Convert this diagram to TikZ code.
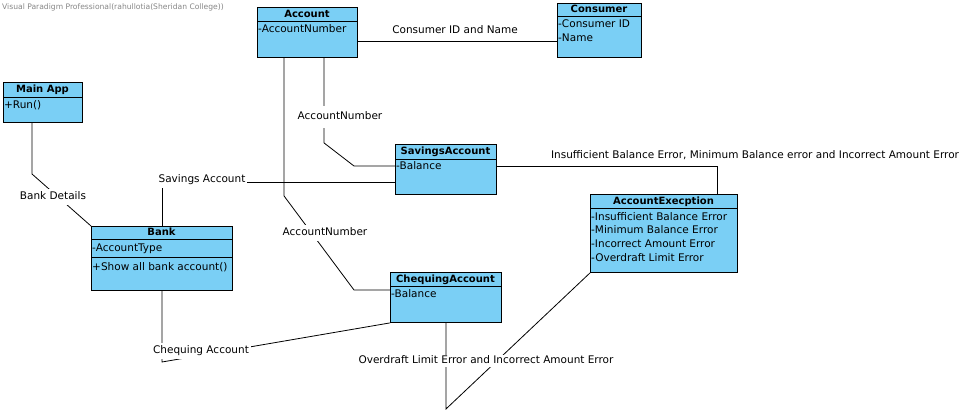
\documentclass[tikz,border=0pt]{standalone}
\usepackage{fontspec}
\setmainfont{DejaVu Sans}
\usetikzlibrary{calc}
\definecolor{classblue}{RGB}{122,207,245}
\definecolor{wmgray}{RGB}{135,135,135}
\newcommand\umlclass[7]{% name, x1, y1, x2, y2, header bottom, title
  \node[classbox, minimum width={(#4-#2)*1pt}, minimum height={(#5-#3)*1pt}] (#1) at (#2,#3) {};
  \draw[sepline] (#2,#6) -- (#4,#6);
  \node[ctitle] at ({(#2+#4)/2},{(#3+#6)/2+0.5}) {#7};
}
\begin{document}
\begin{tikzpicture}[x=1pt,y=-1pt,
  classbox/.style={draw=black, fill=classblue, line width=0.9pt, inner sep=0pt, anchor=north west},
  sepline/.style={draw=black, line width=0.9pt},
  ctitle/.style={font=\fontsize{10}{12}\selectfont\bfseries, inner sep=0pt, text height=7.5pt, text depth=2pt},
  member/.style={font=\fontsize{10.5}{12}\selectfont, inner sep=0pt, anchor=west, text height=7.5pt, text depth=2.3pt},
  conn/.style={draw=black, line width=0.8pt},
  lbl/.style={font=\fontsize{10.5}{12}\selectfont, inner xsep=2pt, inner ysep=3pt, text height=7.5pt, text depth=2.3pt},
  lblw/.style={lbl, fill=white},
]
\fill[white] (0,0) rectangle (977,413);
\useasboundingbox (0,0) rectangle (977,413);

% watermark
\node[font=\fontsize{7.6}{9}\selectfont, text=wmgray, anchor=west, inner sep=0pt] (wm) at (2,7) {Visual Paradigm Professional(rahullotia(Sheridan College))};

% classes
\umlclass{acc}{257}{7}{357}{57}{21}{Account}
\node[member] (accA) at (258,30) {-AccountNumber};

\umlclass{con}{557}{3}{641}{57}{16}{Consumer}
\node[member] (conA) at (558,25) {-Consumer ID};
\node[member] (conB) at (558,39) {-Name};

\umlclass{main}{3}{82}{82}{122}{97}{Main App}
\node[member] (mainA) at (4,106) {+Run()};

\umlclass{bank}{91}{226}{232}{290}{239}{Bank}
\draw[sepline] (91,257) -- (232,257);
\node[member] (bankA) at (92,249) {-AccountType};
\node[member] (bankM) at (92,268) {+Show all bank account()};

\umlclass{sav}{395}{144}{496}{194}{159}{SavingsAccount}
\node[member] (savA) at (396,167) {-Balance};

\umlclass{chq}{390}{272}{501}{322}{286}{ChequingAccount}
\node[member] (chqA) at (391,295) {-Balance};

\umlclass{exc}{590}{194}{737}{272}{208}{AccountExecption}
\node[member] (excA) at (591,218) {-Insufficient Balance Error};
\node[member] (excB) at (591,231) {-Minimum Balance Error};
\node[member] (excC) at (591,245) {-Incorrect Amount Error};
\node[member] (excD) at (591,259) {-Overdraft Limit Error};

% connectors
\draw[conn] (acc.east |- 0,41) -- (con.west |- 0,41);
\draw[conn] (main.south -| 32,0) -- (32,174) -- (bank.north west);
\draw[conn] (bank.north) -- (bank.north |- 0,182) -- (sav.west |- 0,182);
\draw[conn] (bank.south) -- (bank.south |- 0,362) -- (chq.south west);
\draw[conn] ($(acc.south west)+(27,0)$) -- ($(acc.south west)+(27,138)$) -- (354,290) -- (chq.west |- 0,290);
\draw[conn] ($(acc.south west)+(67,0)$) -- ($(acc.south west)+(67,85)$) -- (354,166) -- (sav.west |- 0,166);
\draw[conn] (sav.east |- 0,166) -- (717,166) -- (exc.north -| 717,0);
\draw[conn] (chq.south) -- (chq.south |- 0,409) -- (exc.south west);

% connector labels
\node[lbl] (l1) at (455,31) {Consumer ID and Name};
\node[lblw] (l2) at (53,197) {Bank Details};
\node[lblw] (l3) at (202,180) {Savings Account};
\node[lblw] (l4) at (201,351) {Chequing Account};
\node[lblw] (l5) at (325,233) {AccountNumber};
\node[lblw, inner ysep=6pt] (l6) at (340,117) {AccountNumber};
\node[lbl] (l7) at (755,156) {Insufficient Balance Error, Minimum Balance error and Incorrect Amount Error};
\node[lblw, inner ysep=1.5pt] (l8) at (486,361) {Overdraft Limit Error and Incorrect Amount Error};
\end{tikzpicture}
\end{document}
